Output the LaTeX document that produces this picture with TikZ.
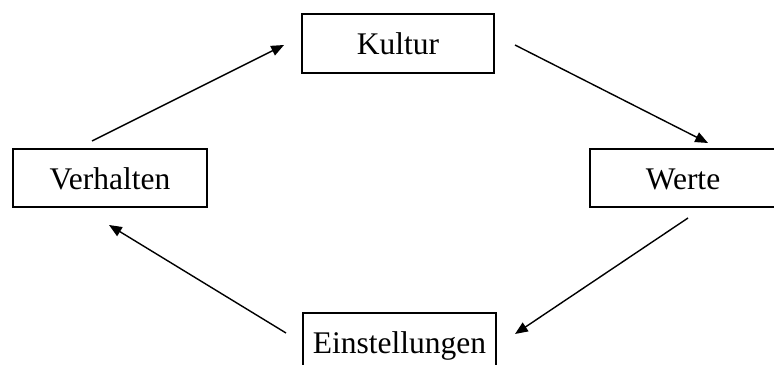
\documentclass[tikz,border=0pt]{standalone}
\usepackage{fontspec}
\setmainfont{Liberation Serif}
\usetikzlibrary{arrows.meta,positioning}

\begin{document}
\begin{tikzpicture}[
    x=0.025cm, y=-0.025cm,
    box/.style={draw, line width=1.4pt, minimum height=1.47cm, inner sep=0pt,
      text height=15.7pt, text depth=0pt, font=\fontsize{22.4}{26}\selectfont, align=center},
    arr/.style={-{Triangle[length=3.2mm, width=2.6mm]}, line width=1pt},
  ]
  \useasboundingbox (0,0) rectangle (774,365);

  \node[box, minimum width=4.8cm] (kultur) at (398,43.5) {Kultur};
  \node[box, minimum width=4.85cm] (verhalten) at (110,178) {Verhalten};
  \node[box, minimum width=4.65cm] (werte) at (683,178) {Werte};
  \node[box, minimum width=4.83cm] (einst) at (399.5,342) {Einstellungen};

  % free ends of the arrows
  \coordinate (vk1) at (92,141);  \coordinate (vk2) at (284,45);
  \coordinate (kw1) at (515,45);  \coordinate (kw2) at (708,143);
  \coordinate (we1) at (688,218); \coordinate (we2) at (515,334);
  \coordinate (ev1) at (286,333); \coordinate (ev2) at (109,225);

  \draw[arr] (vk1) -- (vk2);
  \draw[arr] (kw1) -- (kw2);
  \draw[arr] (we1) -- (we2);
  \draw[arr] (ev1) -- (ev2);
\end{tikzpicture}
\end{document}
